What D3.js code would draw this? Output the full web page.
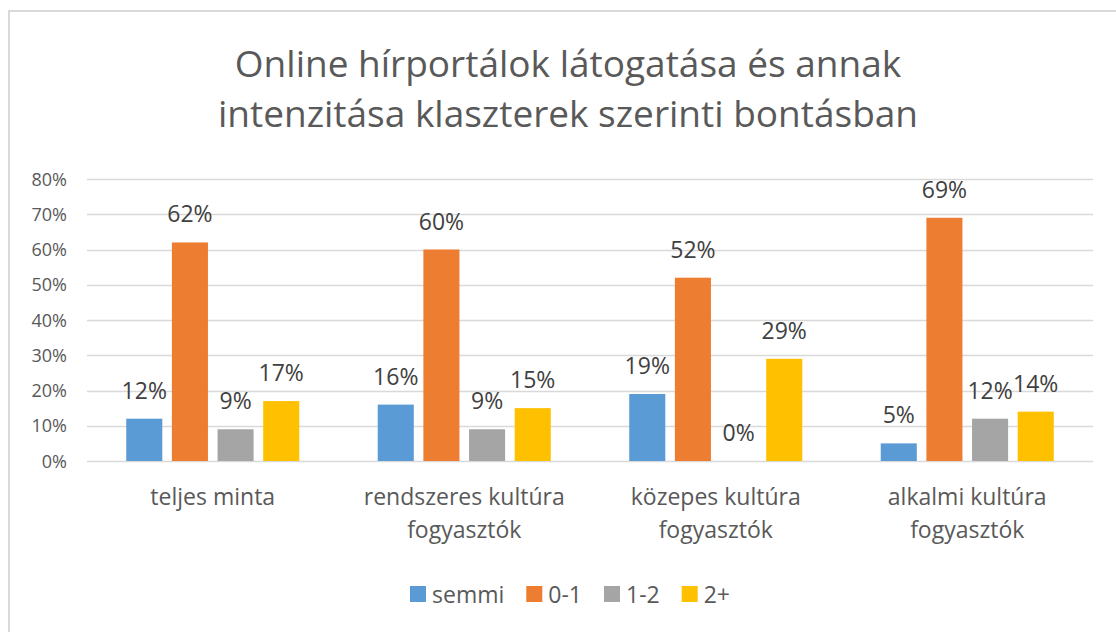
<!DOCTYPE html>
<meta charset="utf-8">
<style>
body { margin: 0; background: #fff; }
text { font-family: "Open Sans", sans-serif; }
.grid line { stroke: #d9d9d9; stroke-width: 1.3px; }
.yaxis text { fill: #595959; font-size: 18px; }
.cat text { fill: #595959; font-size: 23px; }
.labels text { fill: #404040; font-size: 23px; }
</style>
<svg width="1116" height="632"></svg>
<script src="https://d3js.org/d3.v7.min.js"></script>
<script>
// data
var categories = [["teljes minta"], ["rendszeres kultúra", "fogyasztók"], ["közepes kultúra", "fogyasztók"], ["alkalmi kultúra", "fogyasztók"]];
var seriesNames = ["semmi", "0-1", "1-2", "2+"];
var semmi = [12, 16, 19, 5];
var egy = [62, 60, 52, 69];
var ketto = [9, 9, 0, 12];
var tobb = [17, 15, 29, 14];
var yTicks = [0, 10, 20, 30, 40, 50, 60, 70, 80];
var colors = ["#5b9bd5", "#ed7d31", "#a5a5a5", "#ffc000"];
var titleLines = ["Online hírportálok látogatása és annak", "intenzitása klaszterek szerinti bontásban"];

var series = [semmi, egy, ketto, tobb];

var svg = d3.select("svg");

// chart frame
svg.append("path")
    .attr("d", "M9,632 V11 H1116")
    .attr("fill", "none")
    .attr("stroke", "#d9d9d9")
    .attr("stroke-width", 2);

// title
svg.append("g").selectAll("text")
    .data(titleLines)
    .enter().append("text")
    .attr("x", 568)
    .attr("y", function(d, i) { return 77 + i * 50; })
    .attr("text-anchor", "middle")
    .attr("fill", "#595959")
    .style("font-size", "37px")
    .text(function(d) { return d; });

var plotLeft = 87, plotRight = 1093, plotTop = 179, plotBottom = 461;

var x0 = d3.scaleBand()
    .domain(d3.range(categories.length))
    .range([plotLeft, plotRight]);

var x1 = d3.scaleBand()
    .domain(d3.range(seriesNames.length))
    .range([0, x0.bandwidth() * 0.688])
    .paddingInner(0.21);

var y = d3.scaleLinear()
    .domain([0, 80])
    .range([plotBottom, plotTop]);

// gridlines
svg.append("g")
    .attr("class", "grid")
    .selectAll("line")
    .data(yTicks)
    .enter().append("line")
    .attr("x1", plotLeft)
    .attr("x2", plotRight)
    .attr("y1", function(d) { return Math.round(y(d)) + 0.5; })
    .attr("y2", function(d) { return Math.round(y(d)) + 0.5; });

// y axis labels
var yAxis = d3.axisLeft(y)
    .tickValues(yTicks)
    .tickSize(0)
    .tickPadding(0)
    .tickFormat(function(d) { return d + "%"; });

svg.append("g")
    .attr("class", "yaxis")
    .attr("transform", "translate(67,0)")
    .call(yAxis)
    .call(function(g) { g.select(".domain").remove(); })
    .attr("font-family", null)
    .attr("font-size", null)
    .selectAll("text")
    .attr("dy", "0.34em");

var groupOffset = (x0.bandwidth() - x1.range()[1]) / 2;

// bars
var groups = svg.append("g").selectAll("g")
    .data(series)
    .enter().append("g")
    .attr("fill", function(d, i) { return colors[i]; });

groups.each(function(vals, s) {
  d3.select(this).selectAll("rect")
      .data(vals)
      .enter().append("rect")
      .attr("x", function(d, c) { return x0(c) + groupOffset + x1(s); })
      .attr("width", x1.bandwidth())
      .attr("y", function(d) { return y(d); })
      .attr("height", function(d) { return y(0) - y(d); });
});

// data labels
var labels = svg.append("g").attr("class", "labels");
series.forEach(function(vals, s) {
  labels.selectAll("text.s" + s)
      .data(vals)
      .enter().append("text")
      .attr("class", "s" + s)
      .attr("x", function(d, c) { return x0(c) + groupOffset + x1(s) + x1.bandwidth() / 2; })
      .attr("y", function(d) { return y(d) - 20; })
      .attr("text-anchor", "middle")
      .text(function(d) { return d + "%"; });
});

// category labels
var cat = svg.append("g").attr("class", "cat");
cat.selectAll("g")
    .data(categories)
    .enter().append("g")
    .each(function(lines, c) {
      d3.select(this).selectAll("text")
          .data(lines)
          .enter().append("text")
          .attr("x", x0(c) + x0.bandwidth() / 2)
          .attr("y", function(d, i) { return 505 + i * 33; })
          .attr("text-anchor", "middle")
          .text(function(d) { return d; });
    });

// legend
var legend = svg.append("g");
var lx = 410;
seriesNames.forEach(function(name, i) {
  legend.append("rect")
      .attr("x", lx)
      .attr("y", 586)
      .attr("width", 16)
      .attr("height", 16)
      .attr("fill", colors[i]);
  var t = legend.append("text")
      .attr("x", lx + 22)
      .attr("y", 603)
      .attr("fill", "#595959")
      .style("font-size", "23px")
      .text(name);
  lx += 22 + t.node().getComputedTextLength() + 22;
});
</script>
